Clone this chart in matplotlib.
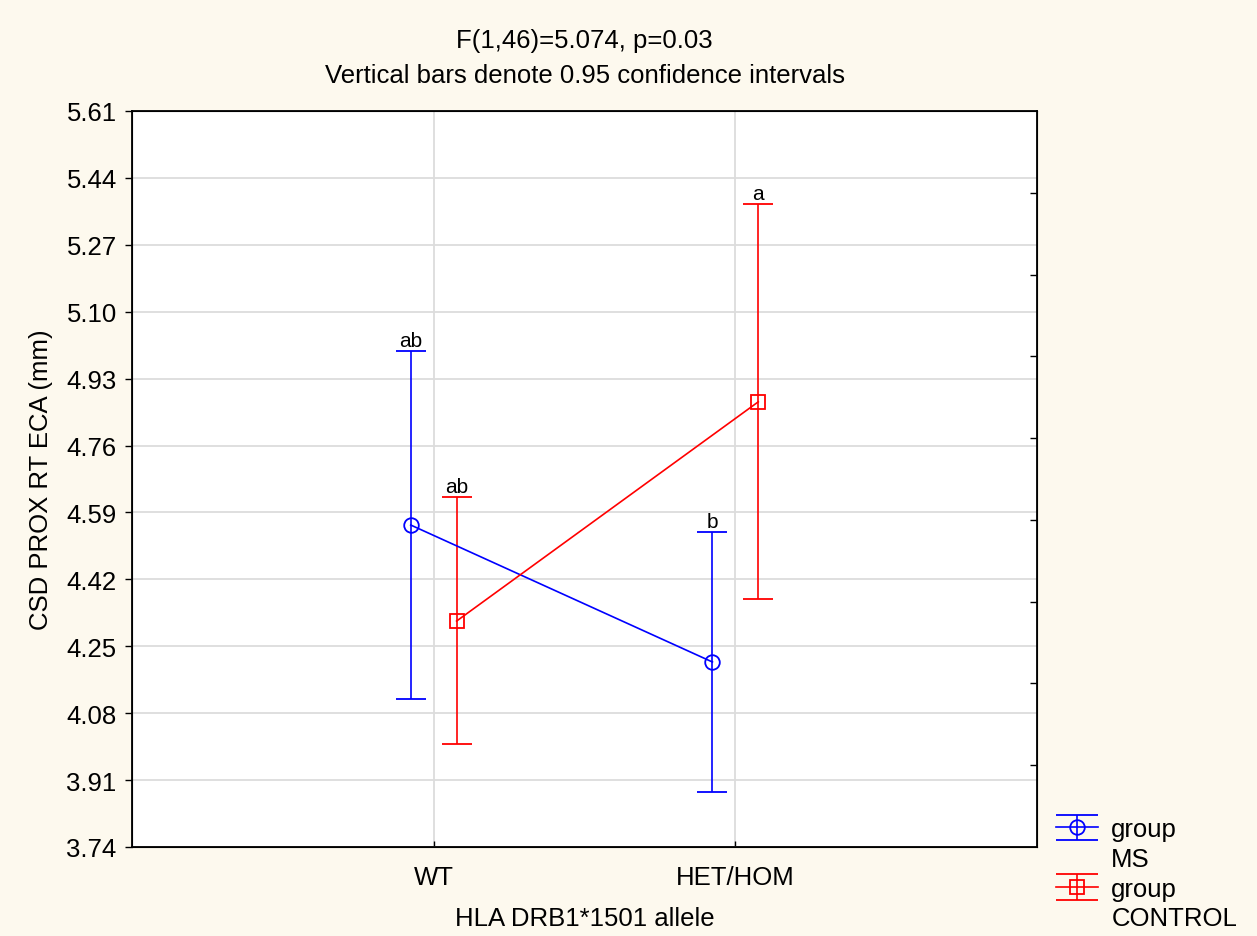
import numpy as np
import matplotlib
matplotlib.use("Agg")
import matplotlib.pyplot as plt
from matplotlib.lines import Line2D
from matplotlib.legend_handler import HandlerErrorbar

# --- Data ---
categories = ["WT", "HET/HOM"]
groups = ["MS", "CONTROL"]
ms_mean = [4.558, 4.210]
ms_low = [4.116, 3.880]
ms_high = [5.000, 4.540]
ctrl_mean = [4.314, 4.871]
ctrl_low = [4.002, 4.370]
ctrl_high = [4.629, 5.374]
ms_letters = ["ab", "b"]
ctrl_letters = ["ab", "a"]
y_ticks = [3.74, 3.91, 4.08, 4.25, 4.42, 4.59, 4.76, 4.93, 5.10, 5.27, 5.44, 5.61]

# --- Style ---
BG = "#fdf9ee"
GRID = "#dcdcdc"
FS = 18.5
plt.rcParams["font.family"] = ["Liberation Sans", "DejaVu Sans"]

fig = plt.figure(figsize=(12.57, 9.37), dpi=100, facecolor=BG)
ax = fig.add_axes([0.105, 0.095, 0.72, 0.7855])
ax.set_facecolor("white")

x = np.arange(1, len(categories) + 1)
off = 0.076

series = [
    (ms_mean, ms_low, ms_high, ms_letters, "blue", "o", 10.5, -off, "MS"),
    (ctrl_mean, ctrl_low, ctrl_high, ctrl_letters, "red", "s", 10, off, "CONTROL"),
]
handles = []
for mean, low, high, letters, col, mk, ms, dx, name in series:
    mean = np.array(mean)
    err = [mean - np.array(low), np.array(high) - mean]
    h = ax.errorbar(x + dx, mean, yerr=err, color=col, lw=1.2, marker=mk,
                    markersize=ms, markerfacecolor="none", markeredgewidth=1.3,
                    capsize=10.5, capthick=1.2, elinewidth=1.2, zorder=3)
    handles.append(h)
    for xi, hi, lab in zip(x + dx, high, letters):
        ax.annotate(lab, (xi, hi), xytext=(0, 0.5), textcoords="offset points",
                    ha="center", va="bottom", fontsize=15)

ax.set_xlim(0, 3)
ax.set_ylim(3.74, 5.61)
ax.set_xticks(x)
ax.set_xticklabels(categories, fontsize=FS)
ax.set_yticks(y_ticks)
ax.set_yticklabels([f"{v:.2f}" for v in y_ticks], fontsize=FS)
ax.grid(True, color=GRID, lw=1.3, zorder=0)
ax.set_axisbelow(True)
ax.tick_params(axis="y", direction="out", length=5, width=1, pad=6)
ax.tick_params(axis="x", direction="in", length=4, width=1, pad=13)
for s in ax.spines.values():
    s.set_linewidth(1.3)

# right-side inner ticks
ax2 = ax.twinx()
ax2.set_ylim(0, 9)
ax2.set_yticks(np.arange(1, 9))
ax2.tick_params(axis="y", direction="in", length=5, width=1, labelright=False)

ax.set_xlabel("HLA DRB1*1501 allele", fontsize=FS, labelpad=12)
ax.set_ylabel("CSD PROX RT ECA (mm)", fontsize=FS, labelpad=10)
ax.set_title("F(1,46)=5.074, p=0.03\nVertical bars denote 0.95 confidence intervals",
             fontsize=FS, pad=21, linespacing=1.58)


# legend caps as wide as the handle
def wide_caps(leg_artist, orig):
    leg_artist.update_from(orig)
    if isinstance(orig, Line2D) and orig.get_marker() == "_":
        leg_artist.set_markersize(30)


blank = Line2D([], [], color="none")
leg = fig.legend([handles[0], blank, handles[1], blank],
                 ["group", "MS", "group", "CONTROL"],
                 loc="lower left", bbox_to_anchor=(0.832, -0.005),
                 frameon=False, fontsize=FS, handlelength=1.65,
                 handletextpad=0.5, labelspacing=0.22, borderaxespad=0,
                 handler_map={type(handles[0]): HandlerErrorbar(update_func=wide_caps)})

fig.savefig("out.png", dpi=100, facecolor=BG)
